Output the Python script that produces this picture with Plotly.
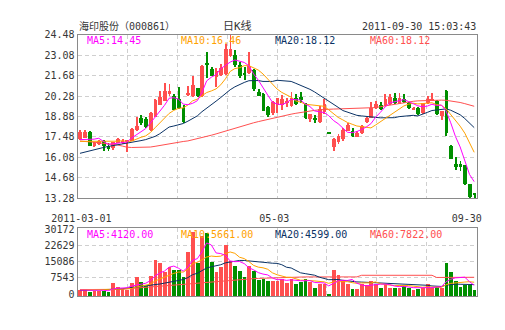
import plotly.graph_objects as go

# ---------------- data ----------------
OPEN = [17.35, 17.45, 17.85, 16.86, 17.02, 17.24, 16.90, 16.75, 17.10, 17.13,
        17.20, 17.24, 17.97, 18.83, 18.72, 17.97, 18.89, 19.71, 19.98, 20.44,
        20.33, 20.11, 19.49, 20.40, 20.33, 20.82, 20.29, 22.54, 22.14, 21.61,
        21.72, 21.83, 23.02, 23.13, 22.43, 21.87, 21.87, 22.10, 20.59, 20.44,
        19.56, 19.11, 19.67, 19.70, 19.80, 19.62, 20.20, 20.22, 19.78, 18.74,
        18.83, 18.56, 19.22, 17.75, 16.84, 17.13, 17.35, 17.94, 17.94, 17.52,
        17.79, 18.52, 18.83, 19.49, 19.67, 19.65, 19.76, 20.15, 19.78, 20.11,
        19.84, 19.38, 19.49, 19.11, 19.82, 19.99, 19.95, 18.96, 20.66, 16.91,
        15.65, 15.62, 15.58, 14.25, 13.55]
HIGH = [17.95, 17.95, 17.90, 17.15, 17.28, 17.28, 17.12, 17.15, 17.46, 17.35,
        17.30, 18.12, 18.90, 19.00, 18.85, 19.22, 20.11, 20.66, 21.21, 21.10,
        20.44, 20.93, 19.67, 21.00, 21.70, 20.88, 22.40, 23.31, 22.32, 22.21,
        22.50, 23.86, 24.50, 23.42, 22.65, 22.32, 23.31, 22.14, 20.77, 20.50,
        19.60, 19.95, 20.20, 20.40, 20.15, 20.55, 20.42, 20.55, 19.85, 19.10,
        19.00, 19.62, 20.11, 17.75, 17.46, 17.68, 18.12, 18.45, 18.12, 17.90,
        18.34, 18.89, 19.89, 19.95, 19.89, 20.45, 20.45, 20.48, 20.48, 20.44,
        19.90, 19.52, 19.52, 19.85, 20.33, 20.48, 20.00, 19.30, 20.73, 16.95,
        16.13, 15.85, 15.60, 14.28, 13.70]
LOW = [17.30, 17.40, 16.85, 16.80, 16.98, 16.57, 16.53, 16.62, 17.08, 17.02,
       16.46, 17.20, 17.90, 18.34, 18.12, 17.90, 18.85, 19.66, 19.95, 20.33,
       19.33, 19.45, 18.45, 20.33, 20.26, 20.22, 20.25, 21.54, 21.65, 20.90,
       21.70, 21.76, 22.99, 22.32, 21.54, 21.43, 21.83, 20.66, 20.28, 19.25,
       18.90, 19.00, 19.11, 19.35, 19.55, 19.58, 19.70, 19.85, 18.74, 18.55,
       18.45, 18.45, 19.05, 17.74, 16.53, 17.05, 17.24, 17.90, 17.50, 17.50,
       17.72, 18.45, 18.78, 19.45, 19.34, 19.60, 19.72, 19.78, 19.75, 19.82,
       19.45, 19.36, 19.00, 19.05, 19.78, 19.95, 19.00, 18.67, 17.57, 15.98,
       15.25, 15.20, 14.22, 13.33, 13.26]
CLOSE = [17.82, 17.85, 16.90, 17.12, 17.24, 16.90, 16.68, 17.13, 17.35, 17.24,
         17.26, 18.07, 18.27, 18.45, 18.19, 19.16, 20.00, 20.22, 20.64, 20.62,
         19.38, 19.49, 18.52, 20.44, 21.06, 20.29, 22.36, 22.43, 21.70, 21.99,
         22.25, 23.53, 23.53, 22.43, 21.65, 21.76, 22.36, 20.77, 20.33, 19.29,
         19.00, 19.89, 20.15, 20.10, 19.98, 20.15, 19.75, 20.06, 18.78, 19.05,
         18.67, 19.45, 19.78, 17.74, 17.39, 17.57, 17.99, 18.32, 17.57, 17.79,
         18.27, 18.83, 19.49, 19.78, 19.45, 20.10, 20.22, 19.82, 20.15, 19.89,
         19.49, 19.49, 19.05, 19.82, 20.11, 20.11, 19.05, 19.27, 17.79, 16.02,
         15.47, 15.47, 14.25, 13.37, 13.53]

MA5 = [17.30, 17.31, 17.30, 17.33, 17.39, 17.20, 16.97, 17.01, 17.06, 17.06,
       17.13, 17.41, 17.64, 17.86, 18.05, 18.43, 18.81, 19.20, 19.64, 20.13,
       20.17, 20.07, 19.73, 19.69, 19.78, 19.96, 20.53, 21.32, 21.57, 21.75,
       22.15, 22.38, 22.60, 22.75, 22.68, 22.58, 22.35, 21.79, 21.37, 20.90,
       20.35, 19.86, 19.73, 19.69, 19.82, 20.05, 20.03, 20.01, 19.74, 19.56,
       19.26, 19.20, 19.15, 18.94, 18.61, 18.39, 18.09, 17.80, 17.77, 17.85,
       17.99, 18.16, 18.39, 18.83, 19.16, 19.53, 19.81, 19.87, 19.95, 20.04,
       19.91, 19.77, 19.61, 19.55, 19.59, 19.72, 19.63, 19.67, 19.27, 18.45,
       17.52, 16.80, 15.80, 14.92, 14.42]
MA10 = [17.18, 17.18, 17.17, 17.17, 17.17, 17.16, 17.16, 17.17, 17.19, 17.22,
        17.17, 17.19, 17.33, 17.46, 17.55, 17.78, 18.11, 18.42, 18.75, 19.09,
        19.30, 19.44, 19.47, 19.67, 19.95, 20.07, 20.30, 20.52, 20.63, 20.77,
        21.05, 21.46, 21.96, 22.16, 22.22, 22.36, 22.36, 22.20, 22.06, 21.79,
        21.47, 21.10, 20.76, 20.53, 20.36, 20.20, 19.94, 19.87, 19.72, 19.69,
        19.66, 19.61, 19.58, 19.34, 19.08, 18.82, 18.65, 18.47, 18.35, 18.23,
        18.19, 18.13, 18.10, 18.30, 18.51, 18.76, 18.98, 19.13, 19.39, 19.60,
        19.72, 19.79, 19.74, 19.75, 19.81, 19.82, 19.70, 19.64, 19.41, 19.02,
        18.62, 18.22, 17.74, 17.09, 16.43]
MA20 = [16.36, 16.45, 16.53, 16.61, 16.68, 16.76, 16.83, 16.88, 16.93, 16.98,
        17.04, 17.09, 17.16, 17.23, 17.30, 17.39, 17.52, 17.70, 17.92, 18.16,
        18.23, 18.32, 18.40, 18.56, 18.75, 18.92, 19.21, 19.47, 19.69, 19.93,
        20.18, 20.45, 20.71, 20.91, 21.08, 21.21, 21.33, 21.36, 21.34, 21.28,
        21.26, 21.28, 21.36, 21.34, 21.29, 21.28, 21.15, 21.03, 20.89, 20.74,
        20.56, 20.36, 20.17, 19.94, 19.72, 19.51, 19.29, 19.17, 19.03, 18.96,
        18.92, 18.87, 18.84, 18.82, 18.79, 18.79, 18.82, 18.80, 18.87, 18.91,
        18.95, 18.96, 18.92, 19.02, 19.16, 19.29, 19.34, 19.39, 19.40, 19.31,
        19.17, 19.00, 18.74, 18.42, 18.12]
MA60 = [17.20, 17.19, 17.18, 17.12, 17.08, 17.05, 17.02, 16.98, 16.93, 16.86,
        16.78, 16.76, 16.76, 16.76, 16.77, 16.79, 16.84, 16.90, 16.97, 17.04,
        17.07, 17.12, 17.17, 17.21, 17.28, 17.36, 17.43, 17.50, 17.60, 17.69,
        17.79, 17.89, 17.98, 18.08, 18.18, 18.28, 18.38, 18.45, 18.53, 18.61,
        18.67, 18.76, 18.83, 18.92, 18.99, 19.04, 19.10, 19.16, 19.20, 19.25,
        19.30, 19.34, 19.37, 19.38, 19.39, 19.40, 19.41, 19.42, 19.43, 19.44,
        19.45, 19.46, 19.47, 19.49, 19.55, 19.61, 19.67, 19.73, 19.78, 19.84,
        19.88, 19.92, 19.95, 19.97, 19.99, 20.00, 20.00, 20.00, 19.99, 19.95,
        19.90, 19.84, 19.76, 19.68, 19.58]

VOLUME = [1960, 2570, 1360, 1660, 1660, 1810, 1360, 5280, 3470, 2410,
          2260, 5280, 8000, 5890, 3770, 8450, 16150, 14790, 10410, 12680,
          11170, 11170, 8000, 19770, 28820, 14490, 27310, 28520, 14940, 10410,
          12980, 23090, 15540, 13430, 10710, 8150, 13430, 10710, 6940, 7390,
          6190, 6490, 6490, 7390, 5430, 7390, 4980, 5890, 7390, 5890,
          2870, 4980, 4980, 450, 11320, 8900, 6490, 4680, 2720, 2720,
          4680, 4380, 6190, 4680, 3170, 4980, 3170, 2870, 3170, 3920,
          3170, 1960, 2720, 2870, 4680, 2870, 3620, 2870, 14800, 10300,
          6190, 3620, 4380, 4380, 2110]
VMA5 = [1900, 1950, 1900, 1850, 1842, 1812, 1570, 2354, 2716, 2866,
        2956, 3740, 4284, 4768, 5040, 6278, 8452, 9810, 10714, 12496,
        13040, 12044, 10686, 12558, 15786, 16450, 19678, 23782, 22816, 19134,
        18832, 17988, 15392, 15090, 15150, 14184, 12252, 11286, 9988, 9324,
        8932, 7544, 6700, 6790, 6398, 6638, 6336, 6216, 6216, 6308,
        5404, 5404, 5222, 3834, 4920, 6126, 6428, 6368, 6822, 5102,
        4258, 3836, 4138, 4530, 4620, 4680, 4438, 3774, 3472, 3622,
        3260, 3018, 2988, 2928, 3080, 3020, 3352, 3382, 5768, 6892,
        7556, 7556, 7858, 5774, 4136]
VMA10 = [2100, 2100, 2050, 2000, 2000, 1950, 1950, 2100, 2250, 2354,
         2384, 2655, 3319, 3742, 3953, 4617, 6096, 7047, 7741, 8768,
         9659, 10248, 10248, 11636, 14141, 14745, 15861, 17234, 17687, 17460,
         17641, 18833, 19587, 18953, 17142, 16508, 15120, 13339, 12539, 12237,
         11558, 9898, 8993, 8389, 7861, 7785, 6940, 6458, 6503, 6353,
         6021, 5870, 5719, 5025, 5614, 5765, 5916, 5795, 5328, 5011,
         5192, 5132, 5253, 5676, 4861, 4469, 4137, 3956, 4001, 4121,
         3970, 3728, 3381, 3200, 3351, 3140, 3185, 3185, 4348, 4986,
         5288, 5454, 5620, 5771, 5514]
VMA20 = [1800, 1820, 1850, 1880, 1950, 2000, 2050, 2110, 2300, 2500,
         2750, 2950, 3150, 3350, 3600, 3900, 4300, 4700, 5100, 5561,
         6022, 6452, 6784, 7689, 9047, 9681, 10979, 12141, 12714, 13114,
         13650, 14541, 14918, 15295, 15642, 15627, 15491, 15287, 15113, 14849,
         14600, 14366, 14290, 13671, 12502, 12147, 11030, 9899, 9521, 9295,
         8790, 7884, 7356, 6707, 6738, 6775, 6428, 6127, 5916, 5682,
         5607, 5501, 5486, 5351, 5238, 5117, 5027, 4876, 4665, 4566,
         4581, 4430, 4317, 4438, 4106, 3805, 3661, 3571, 4175, 4554,
         4629, 4591, 4501, 4486, 4433]
VMA60 = [1900, 1900, 1900, 1900, 1950, 2000, 2050, 2100, 2200, 2300,
         2450, 2600, 2750, 2900, 3050, 3200, 3400, 3600, 3800, 4000,
         4200, 4350, 4500, 4700, 4900, 5100, 5300, 5500, 5700, 5900,
         6100, 6300, 6450, 6600, 6750, 6900, 7050, 7200, 7300, 7400,
         7500, 7600, 7700, 7750, 7800, 7850, 7900, 7950, 8000, 8000,
         8000, 8000, 8000, 8000, 8000, 8000, 8000, 8000, 8000, 8000,
         8750, 8750, 8750, 8750, 8750, 8750, 8750, 8750, 8750, 8750,
         8750, 8750, 8750, 8750, 8750, 8750, 7750, 7750, 7780, 7800,
         7800, 7810, 7810, 7820, 7822]

PRICE_TICKS = [13.28, 14.68, 16.08, 17.48, 18.88, 20.28, 21.68, 23.08, 24.48]
PRICE_TICK_LABELS = ["13.28", "14.68", "16.08", "17.48", "18.88", "20.28", "21.68", "23.08", "24.48"]
VOL_TICKS = [0, 7543, 15086, 22629, 30172]
VOL_TICK_LABELS = ["0", "7543", "15086", "22629", "30172"]
DATE_LABELS = ["2011-03-01", "05-03", "09-30"]

TITLE = "海印股份（000861）"
CHART_TYPE = "日K线"
TIMESTAMP = "2011-09-30 15:03:43"
PRICE_MA_LABELS = ["MA5:14.45", "MA10:16.46", "MA20:18.12", "MA60:18.12"]
VOL_MA_LABELS = ["MA5:4120.00", "MA10:5661.00", "MA20:4599.00", "MA60:7822.00"]

# ---------------- styling ----------------
N = len(CLOSE)
X = list(range(N))
RED = "#ff4f4f"
GREEN = "#008f00"
MA_COLORS = ["#ff00ff", "#ffa200", "#0a3265", "#ff5050"]
TEXT = "#363636"
BORDER = "#8a8a8a"
GRID = "#cfcfcf"
FONT = "DejaVu Sans Mono, Noto Sans CJK SC, monospace"

W, H = 505, 330
PX_L, PX_R = 55, 480
MAIN_TOP, MAIN_BOT = 30.7, 200.0
VOL_TOP, VOL_BOT = 230.3, 301.0
VOL_RANGE = [-850, 30890]
DOJI = 0.07

up = [c >= o for o, c in zip(OPEN, CLOSE)]
colors = [RED if u else GREEN for u in up]

fig = go.Figure()

# wicks
fig.add_trace(go.Bar(x=X, y=[h - l for h, l in zip(HIGH, LOW)], base=LOW, width=0.2,
                     marker=dict(color=colors, line=dict(width=0)),
                     xaxis="x", yaxis="y", hoverinfo="skip"))
# bodies
fig.add_trace(go.Bar(x=X, y=[max(abs(c - o), DOJI) for o, c in zip(OPEN, CLOSE)],
                     base=[min(o, c) for o, c in zip(OPEN, CLOSE)], width=0.8,
                     marker=dict(color=colors, line=dict(width=0)),
                     xaxis="x", yaxis="y", hoverinfo="skip"))
for series, col in zip([MA60, MA20, MA10, MA5], MA_COLORS[::-1]):
    fig.add_trace(go.Scatter(x=X, y=series, mode="lines", line=dict(color=col, width=1),
                             xaxis="x", yaxis="y", hoverinfo="skip"))

# volume
fig.add_trace(go.Bar(x=X, y=[v - VOL_RANGE[0] for v in VOLUME], base=VOL_RANGE[0], width=0.8,
                     marker=dict(color=colors, line=dict(width=0)),
                     xaxis="x2", yaxis="y2", hoverinfo="skip"))
for series, col in zip([VMA60, VMA20, VMA10, VMA5], MA_COLORS[::-1]):
    fig.add_trace(go.Scatter(x=X, y=series, mode="lines", line=dict(color=col, width=1),
                             xaxis="x2", yaxis="y2", hoverinfo="skip"))

xr = [-0.5, N - 0.5]
grid_x = [xr[0] + k * (xr[1] - xr[0]) / 8 for k in range(1, 8)]
xdom = [PX_L / W, PX_R / W]
minor_x = dict(tickmode="array", tickvals=grid_x, showgrid=True, gridcolor=GRID,
               griddash="4px,3px", gridwidth=1, ticks="")

common_axis = dict(showline=True, mirror=True, linecolor=BORDER, linewidth=1,
                   zeroline=False, showgrid=False, ticks="", fixedrange=True)

fig.update_layout(
    width=W, height=H, margin=dict(l=0, r=0, t=0, b=0),
    paper_bgcolor="white", plot_bgcolor="white", showlegend=False,
    barmode="overlay", bargap=0,
    font=dict(family=FONT, size=10, color=TEXT),
    xaxis=dict(domain=xdom, range=xr, anchor="y", tickmode="array",
               tickvals=[0.3, 41.4, 82.4], ticktext=DATE_LABELS,
               ticklabelstandoff=11, minor=minor_x, **common_axis),
    yaxis=dict(domain=[(H - MAIN_BOT) / H, (H - MAIN_TOP) / H],
               range=[PRICE_TICKS[0], PRICE_TICKS[-1]], anchor="x",
               tickmode="array", tickvals=PRICE_TICKS, ticktext=PRICE_TICK_LABELS,
               minor=dict(tickmode="array", tickvals=PRICE_TICKS[1:-1], showgrid=True,
                          gridcolor=GRID, griddash="4px,3px", gridwidth=1, ticks=""),
               **common_axis),
    xaxis2=dict(domain=xdom, range=xr, anchor="y2", showticklabels=False,
                minor=minor_x, **common_axis),
    yaxis2=dict(domain=[(H - VOL_BOT) / H, (H - VOL_TOP) / H], range=VOL_RANGE,
                anchor="x2", tickmode="array", tickvals=VOL_TICKS, ticktext=VOL_TICK_LABELS,
                minor=dict(tickmode="array", tickvals=VOL_TICKS[1:-1], showgrid=True,
                           gridcolor=GRID, griddash="4px,3px", gridwidth=1, ticks=""),
                **common_axis),
)

def ann(text, x, y, xanchor="left", size=10, color=TEXT):
    fig.add_annotation(text=text, x=x / W, y=1 - y / H, xref="paper", yref="paper",
                       xanchor=xanchor, yanchor="middle", showarrow=False, borderpad=0,
                       font=dict(family=FONT, size=size, color=color))

ann(TITLE, 55, 22)
ann(CHART_TYPE, 225, 22, xanchor="center", size=11)
ann(TIMESTAMP, 480, 22, xanchor="right")
for k, (lab, col) in enumerate(zip(PRICE_MA_LABELS, MA_COLORS)):
    ann(lab, 64 + 100.3 * k, 36.7, color=col)
for k, (lab, col) in enumerate(zip(VOL_MA_LABELS, MA_COLORS)):
    ann(lab, 64 + 100.3 * k, 237.2, color=col)

fig.write_html("out.html")
